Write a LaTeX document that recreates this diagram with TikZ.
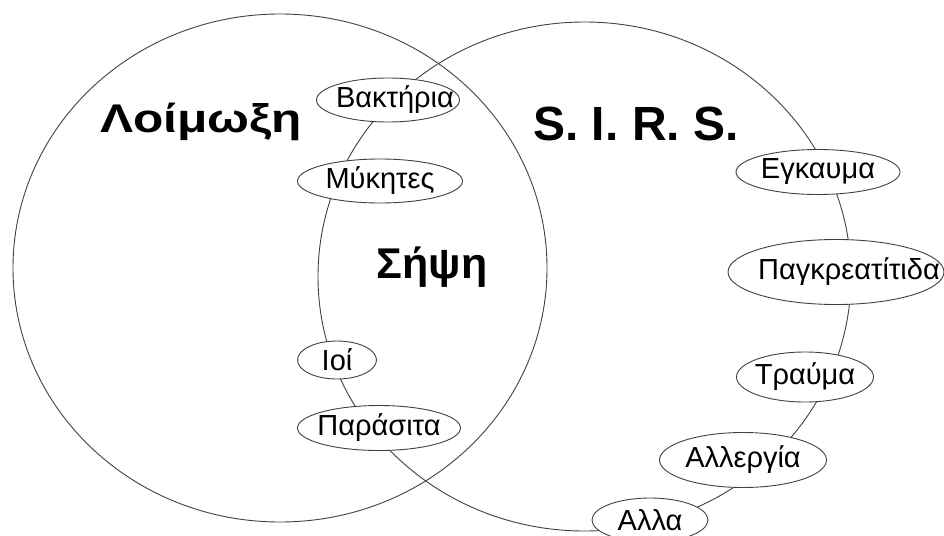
\documentclass[tikz,border=0pt]{standalone}
\usepackage{fontspec}
\setmainfont{Liberation Sans}
\usetikzlibrary{shapes.geometric}
\definecolor{linegray}{HTML}{404040}
\newcommand{\fixw}[2][0pt]{\makebox[0pt]{\hspace{#1}#2}}
\tikzset{
  setcircle/.style={draw=linegray, line width=0.9pt},
  item/.style={ellipse, draw=linegray, line width=0.9pt, fill=white, inner sep=0pt,
    font=\fontsize{29}{32}\selectfont},
  biglabel/.style={anchor=base, font=\bfseries\fontsize{43}{46}\selectfont},
}
\begin{document}
\begin{tikzpicture}[x=1pt,y=-1pt]
\useasboundingbox (0,0) rectangle (944,535);
\draw[setcircle] (280,268) ellipse [x radius=267, y radius=254];
\draw[setcircle] (584.5,276.5) ellipse [x radius=266.5, y radius=254.5];
\node[biglabel, font=\bfseries\fontsize{40}{44}\selectfont] (loim) at (201,132) {\scalebox{1.24}[1]{Λοίμωξη}};
\node[biglabel, font=\bfseries\fontsize{48}{52}\selectfont] (sirs) at (636,140) {S. I. R. S.};
\node[biglabel] (sipsi) at (432,278) {Σήψη};
\node[item, minimum width=143, minimum height=44] (bak) at (388,100) {\fixw[14pt]{Βακτήρια}};
\node[item, minimum width=165, minimum height=44] (myk) at (380,181) {\fixw{Μύκητες}};
\node[item, minimum width=79, minimum height=38] (ioi) at (337,360) {\fixw{Ιοί}};
\node[item, minimum width=163, minimum height=45] (par) at (379,428) {\fixw{Παράσιτα}};
\node[item, minimum width=164, minimum height=45] (egk) at (818,172) {\fixw{Εγκαυμα}};
\node[item, minimum width=216, minimum height=65] (pag) at (836,272) {\fixw[26pt]{Παγκρεατίτιδα}};
\node[item, minimum width=137, minimum height=50] (tra) at (805,377) {\fixw{Τραύμα}};
\node[item, minimum width=167, minimum height=55] (all) at (743,460) {\fixw{Αλλεργία}};
\node[item, minimum width=116, minimum height=44] (alla) at (650,520) {\fixw{Αλλα}};
\end{tikzpicture}
\end{document}
